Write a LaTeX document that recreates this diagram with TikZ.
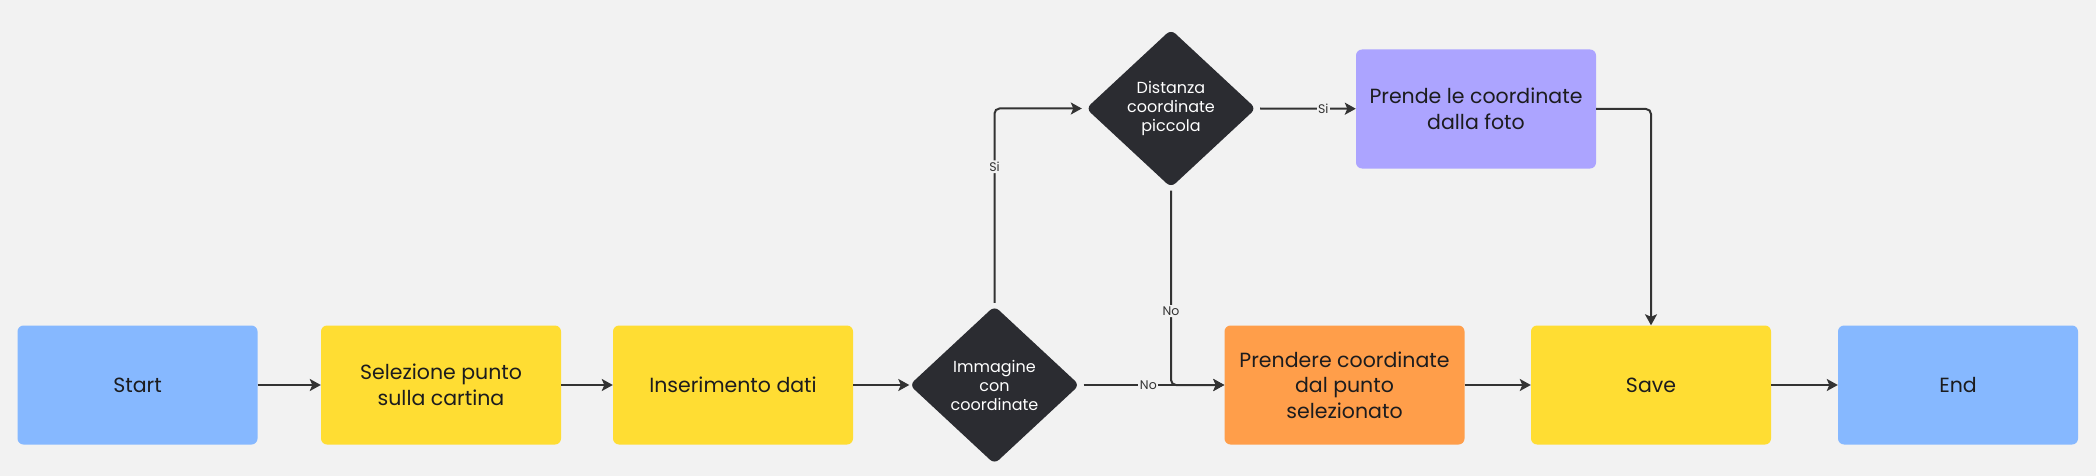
\documentclass[tikz,border=0pt]{standalone}
\usepackage{fontspec}
\setmainfont{Poppins}
\usetikzlibrary{shapes.geometric}
\usetikzlibrary{arrows.meta}

\definecolor{bggray}{HTML}{F2F2F2}
\definecolor{startblue}{HTML}{86B8FF}
\definecolor{stepyellow}{HTML}{FFDD33}
\definecolor{pickorange}{HTML}{FF9E4A}
\definecolor{photopurple}{HTML}{ACA4FF}
\definecolor{choicedark}{HTML}{2B2C31}
\definecolor{linedark}{HTML}{333333}
\definecolor{textdark}{HTML}{1C1C1E}

\begin{document}
\begin{tikzpicture}[x=1pt, y=-1pt,
	box/.style = {rectangle, rounded corners=6pt, minimum width=240pt, minimum height=119pt, inner sep=0pt, align=center, text=textdark, font=\fontsize{20.5}{25.7}\selectfont},
	choice/.style = {diamond, fill=choicedark, rounded corners=6pt, minimum width=170pt, minimum height=158pt, inner sep=0pt, align=center, text=white, font=\fontsize{16}{19}\selectfont},
	flow/.style = {draw=linedark, line width=2pt, -{Stealth[length=11pt,width=12pt,inset=2.5pt]}},
	lbl/.style = {fill=bggray, inner sep=1.5pt, text=linedark, font=\fontsize{12.5}{14}\selectfont}]
	\fill[bggray] (0,0) rectangle (2096,476);
	\useasboundingbox (0,0) rectangle (2096,476);

	% bottom row
	\node[box, fill=startblue] (start) at (137.5,385) {Start};
	\node[box, fill=stepyellow] (sel) at (441,385) {Selezione punto\\sulla cartina};
	\node[box, fill=stepyellow] (ins) at (733,385) {Inserimento dati};
	\node[choice] (img) at (994.5,385) {Immagine\\con\\coordinate};
	\node[box, fill=pickorange] (punto) at (1344.5,385) {Prendere coordinate\\dal punto\\selezionato};
	\node[box, fill=stepyellow] (save) at (1651,385) {Save};
	\node[box, fill=startblue] (end) at (1958,385) {End};
	% top row
	\node[choice] (dist) at (1171,108.5) {Distanza\\coordinate\\piccola};
	\node[box, fill=photopurple] (foto) at (1476,109) {Prende le coordinate\\dalla foto};

	\draw[flow] (start) -- (sel);
	\draw[flow] (sel) -- (ins);
	\draw[flow] (ins) -- (img);
	\draw[flow] ([xshift=4pt]img.east) -- node[lbl, pos=0.46] {No} (punto);
	\draw[flow, rounded corners=5pt] ([yshift=3pt]img.north) |- node[lbl, pos=0.35] {Si} ([xshift=-4pt]dist.west);
	\draw[flow] ([xshift=4pt]dist.east) -- node[lbl, pos=0.66] {Si} (foto);
	\draw[flow, rounded corners=5pt] ([yshift=-3pt]dist.south) |- node[lbl, pos=0.31] {No} (punto.west);
	\draw[flow, rounded corners=5pt] (foto.east) -| (save.north);
	\draw[flow] (punto) -- (save);
	\draw[flow] (save) -- (end);
\end{tikzpicture}
\end{document}
